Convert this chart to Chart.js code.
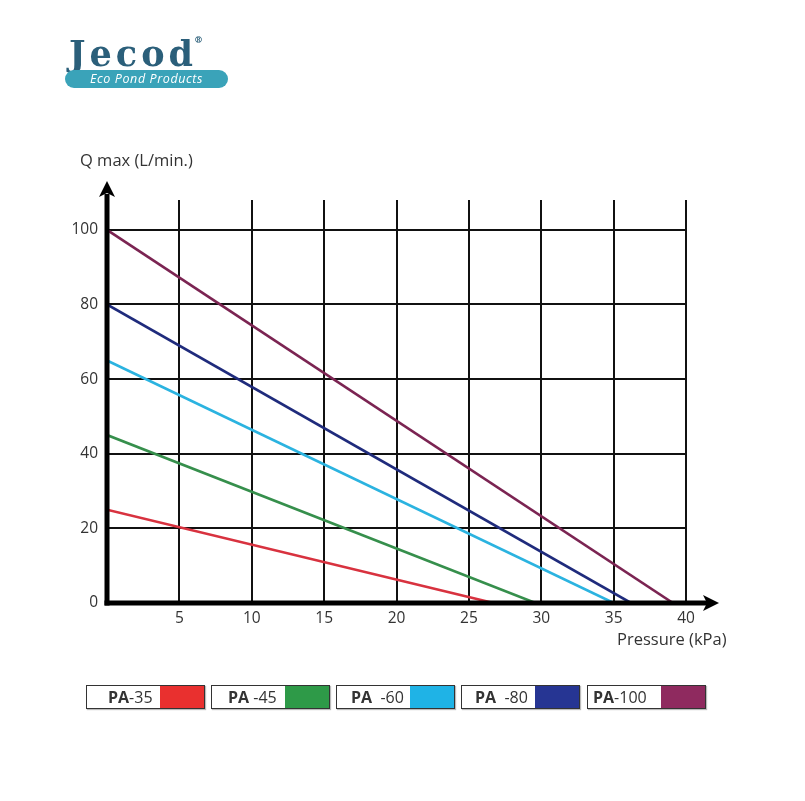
<!DOCTYPE html>
<html>
<head>
<meta charset="utf-8">
<script src="https://cdn.jsdelivr.net/npm/chart.js@4.4.1/dist/chart.umd.min.js"></script>
<style>
	body { margin: 0; background: #fff; }
	#wrap { position: relative; width: 805px; height: 801px; overflow: hidden; font-family: "Open Sans", sans-serif; }
	#c { position: absolute; left: 0; top: 0; }
	.logo { position: absolute; left: 69px; top: 28px; color: #2b5f7a; font-family: "DejaVu Serif", serif; font-weight: bold; font-size: 35px; letter-spacing: 4px; line-height: 44px; }
	.logo sup { font-size: 9px; position: relative; top: -10px; left: -3px; letter-spacing: 0; }
	.pill { position: absolute; left: 65px; top: 70px; width: 163px; height: 18px; border-radius: 9px; background: #3aa3b9; color: #fff; font-style: italic; font-size: 12.5px; line-height: 18px; text-align: center; letter-spacing: 0.6px; }
	.title { position: absolute; color: #333; font-size: 16.5px; white-space: nowrap; }
	.leg { position: absolute; top: 685px; height: 22px; border: 1.5px solid #333; background: #fff; box-shadow: 1px 1px 1px #bbb; }
	.leg span.t { position: absolute; top: 0; line-height: 22px; font-size: 16px; color: #333; white-space: pre; }
	.leg span.t b { font-weight: 700; }
	.leg span.s { position: absolute; top: 0; right: 0; width: 44px; height: 22px; }
</style>
</head>
<body>
<div id="wrap">
	<canvas id="c" width="805" height="801"></canvas>
	<div class="logo">Jecod<sup>®</sup></div>
	<div class="pill">Eco Pond Products</div>
	<div class="title" style="left:80px;top:148px;">Q max (L/min.)</div>
	<div class="title" style="left:617px;top:627px;">Pressure (kPa)</div>
	<div id="legend"></div>
</div>
<script>
// Data
const seriesNames = ["PA-35", "PA-45", "PA-60", "PA-80", "PA-100"];
const legendLabels = ["PA-35", "PA -45", "PA  -60", "PA  -80", "PA-100"];
const qMax = [25, 45, 65, 80, 100]; // flow at 0 kPa
const pMax = [26.7, 29.6, 35, 36.2, 39.1]; // pressure at 0 flow
const lineColors = ["#d8323f", "#368f4c", "#2bb3e0", "#1f2b7c", "#7b2452"];
const swatchColors = ["#e9302f", "#2e9a48", "#1fb3e6", "#263593", "#8f2a5f"];
const xTicks = [5, 10, 15, 20, 25, 30, 35, 40];
const yTicks = [0, 20, 40, 60, 80, 100];

const datasets = seriesNames.map((name, i) => ({
	label: name,
	data: [
		{ x: 0, y: qMax[i] },
		{ x: pMax[i], y: 0 },
	],
	borderColor: lineColors[i],
	borderWidth: 2.6,
	pointRadius: 0,
	fill: false,
}));

// Thick axes with arrow heads
const axesPlugin = {
	id: "axes",
	afterDraw(chart) {
		const ctx = chart.ctx;
		const a = chart.chartArea;
		const xs = chart.scales.x;
		const ys = chart.scales.y;
		const x0 = xs.getPixelForValue(0);
		const y0 = ys.getPixelForValue(0);
		ctx.save();
		ctx.strokeStyle = "#000";
		ctx.fillStyle = "#000";
		ctx.lineWidth = 5;
		// y axis
		ctx.beginPath();
		ctx.moveTo(x0, y0 + 2.5);
		ctx.lineTo(x0, a.top - 6);
		ctx.stroke();
		ctx.beginPath();
		ctx.moveTo(x0, a.top - 19);
		ctx.lineTo(x0 - 8, a.top - 3);
		ctx.lineTo(x0, a.top - 7);
		ctx.lineTo(x0 + 8, a.top - 3);
		ctx.closePath();
		ctx.fill();
		// x axis
		ctx.beginPath();
		ctx.moveTo(x0 - 2.5, y0);
		ctx.lineTo(a.right + 22, y0);
		ctx.stroke();
		ctx.beginPath();
		ctx.moveTo(a.right + 33, y0);
		ctx.lineTo(a.right + 17, y0 - 8);
		ctx.lineTo(a.right + 21, y0);
		ctx.lineTo(a.right + 17, y0 + 8);
		ctx.closePath();
		ctx.fill();
		ctx.restore();
	},
};

new Chart(document.getElementById("c"), {
	type: "line",
	data: { datasets },
	options: {
		responsive: false,
		animation: false,
		layout: { padding: { top: 200, right: 119, left: 0, bottom: 0 } },
		plugins: { legend: { display: false }, tooltip: { enabled: false } },
		scales: {
			x: {
				type: "linear",
				min: 0,
				max: 40,
				afterFit: (s) => { s.height = 198; },
				afterBuildTicks: (s) => { s.ticks = xTicks.map((v) => ({ value: v })); },
				border: { display: false },
				grid: { color: "#111", lineWidth: 2, drawTicks: false },
				ticks: { color: "#333", padding: 6, font: { family: "Open Sans", size: 15.5 } },
			},
			y: {
				type: "linear",
				min: 0,
				max: 108,
				afterFit: (s) => { s.width = 107; },
				afterBuildTicks: (s) => { s.ticks = yTicks.map((v) => ({ value: v })); },
				border: { display: false },
				grid: { color: "#111", lineWidth: 2, drawTicks: false },
				ticks: { color: "#333", padding: 9, font: { family: "Open Sans", size: 15.5 } },
			},
		},
	},
	plugins: [axesPlugin],
});

// Boxed legend
const legLeft = [86, 211, 336, 461, 587];
const legText = [21, 16, 14, 13, 5];
const legEl = document.getElementById("legend");
legendLabels.forEach((lab, i) => {
	const m = lab.match(/^(PA)(.*)$/);
	legEl.innerHTML += `<div class="leg" style="left:${legLeft[i]}px;width:117px;"><span class="t" style="left:${legText[i]}px"><b>${m[1]}</b>${m[2]}</span><span class="s" style="background:${swatchColors[i]}"></span></div>`;
});
</script>
</body>
</html>
